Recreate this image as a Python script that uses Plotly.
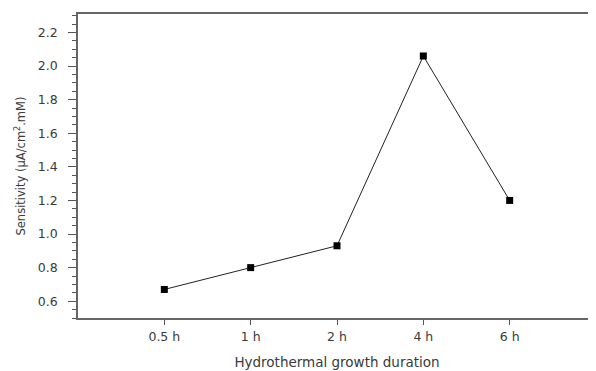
import plotly.graph_objects as go

categories = ["0.5 h", "1 h", "2 h", "4 h", "6 h"]
sensitivity = [0.67, 0.80, 0.93, 2.06, 1.20]
y_ticks = [0.6, 0.8, 1.0, 1.2, 1.4, 1.6, 1.8, 2.0, 2.2]

fam = "DejaVu Sans, Arial, sans-serif"
tick_font = dict(family=fam, size=12.5, color="#3a3a3a")
xtitle_font = dict(family=fam, size=13.5, color="#3a3a3a")
ytitle_font = dict(family=fam, size=11.5, color="#3a3a3a")

fig = go.Figure()
fig.add_trace(go.Scatter(
    x=list(range(len(categories))), y=sensitivity,
    mode="lines+markers",
    line=dict(color="#222", width=1),
    marker=dict(symbol="square", size=7, color="#000"),
    showlegend=False,
))

# page has an 8px body margin; figure sized to fit the 596x371 window
fig.update_layout(
    width=588, height=363,
    margin=dict(l=70, r=0, t=6, b=53),
    paper_bgcolor="white", plot_bgcolor="white",
    font=tick_font,
)
fig.update_xaxes(
    range=[-1, 5], tickmode="array",
    tickvals=list(range(len(categories))), ticktext=categories,
    showgrid=False, zeroline=False,
    showline=True, linecolor="#666", linewidth=1.5, mirror=True,
    ticks="outside", ticklen=5, tickcolor="#555", tickwidth=1,
    ticklabelstandoff=1,
    title=dict(text="Hydrothermal growth duration", standoff=15, font=xtitle_font),
    tickfont=tick_font,
)
fig.update_yaxes(
    range=[0.5, 2.31], tickmode="array", tickvals=y_ticks,
    ticktext=[f"{v:.1f}" for v in y_ticks],
    showgrid=False, zeroline=False,
    showline=True, linecolor="#666", linewidth=1.5,
    ticks="outside", ticklen=8, tickcolor="#555", tickwidth=1,
    ticklabelstandoff=8,
    minor=dict(dtick=0.05, tick0=0.5, ticks="outside", ticklen=4, tickcolor="#555", tickwidth=1, showgrid=False),
    title=dict(text="Sensitivity (μA/cm<sup>2</sup>.mM)", standoff=10, font=ytitle_font),
    tickfont=tick_font,
)

fig.write_html("out.html")
